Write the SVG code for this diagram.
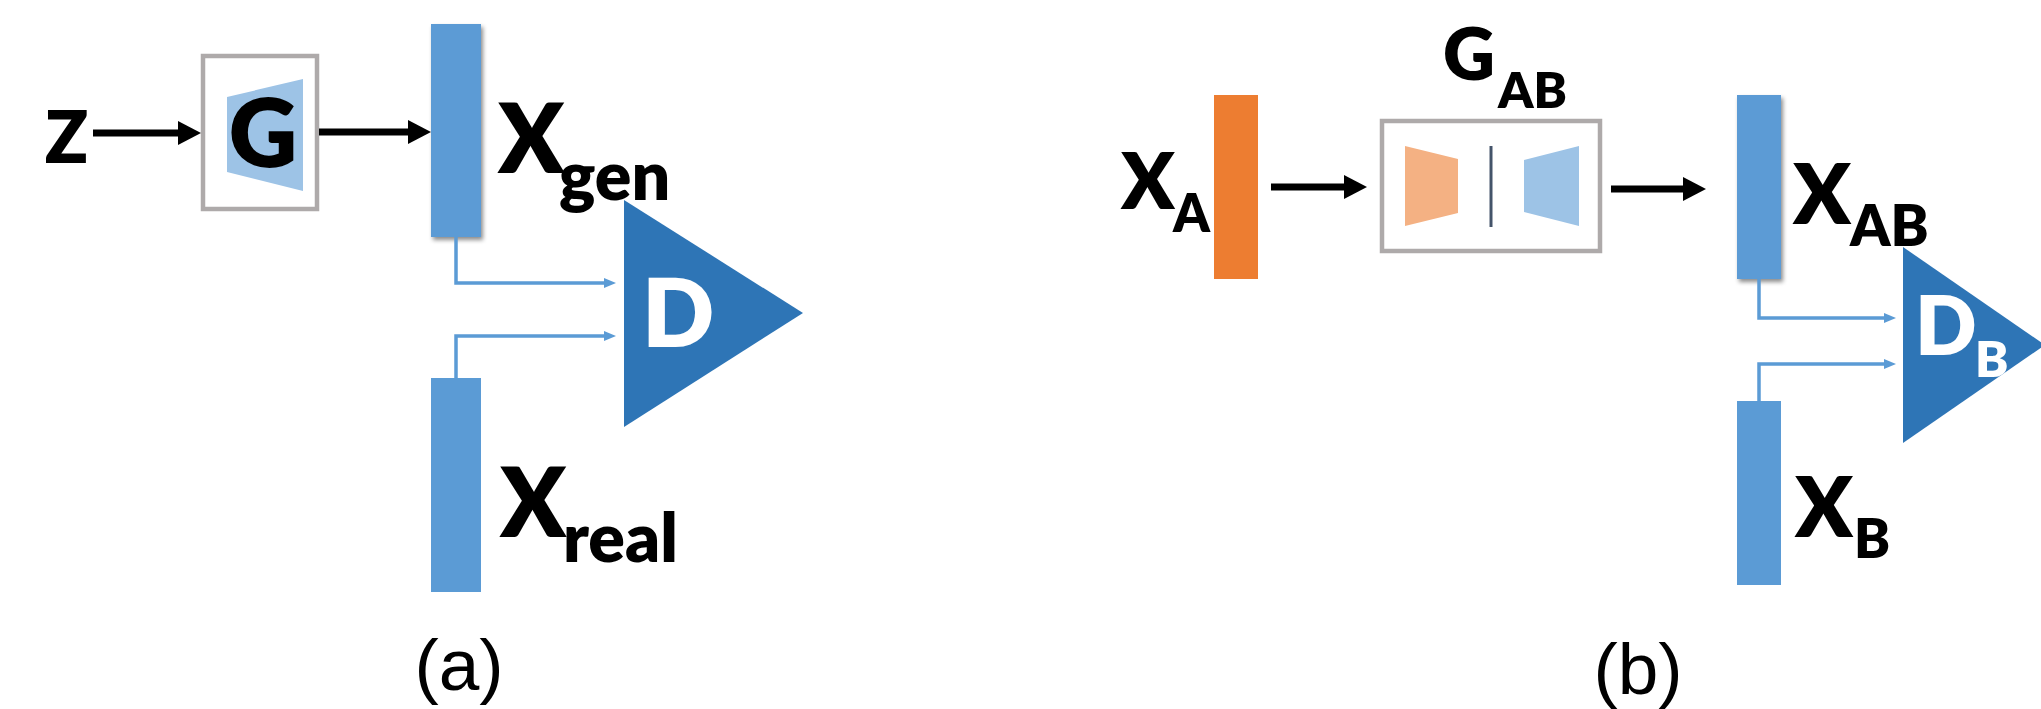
<svg xmlns="http://www.w3.org/2000/svg" width="2041" height="709" viewBox="0 0 2041 709">
  <style>
    .lbl { font-family: Lato, "Open Sans", sans-serif; font-weight: 800; fill: #000; }
    .inv { fill: #fff; }
    .cap { font-family: "Liberation Sans", Arial, sans-serif; font-weight: 400; fill: #000; }
    .bar { fill: #5b9bd5; }
    .disc { fill: #2e75b6; }
    .frame { fill: #fff; stroke: #aeaaaa; stroke-width: 4.5; }
    .flow { fill: none; stroke: #000; stroke-width: 7; }
    .feed { fill: none; stroke: #5b9bd5; stroke-width: 3.5; }
  </style>
  <defs>
    <marker id="head" markerUnits="userSpaceOnUse" viewBox="0 0 23 24" refX="1" refY="12" markerWidth="23" markerHeight="24" orient="auto">
      <path d="M0,0 L23,12 L0,24 z" fill="#000"/>
    </marker>
    <marker id="headBlue" markerUnits="userSpaceOnUse" viewBox="0 0 12 10" refX="1" refY="5" markerWidth="12" markerHeight="10" orient="auto">
      <path d="M0,0 L12,5 L0,10 z" fill="#5b9bd5"/>
    </marker>
    <filter id="shadow" x="-30%" y="-10%" width="160%" height="120%">
      <feDropShadow dx="2" dy="3" stdDeviation="2" flood-color="#000" flood-opacity="0.45"/>
    </filter>
  </defs>

  <!-- (a) plain GAN -->
  <g id="z">
    <text class="lbl" x="45" y="163" font-size="71">Z</text>
  </g>
  <g id="gen-g">
    <rect class="frame" x="203" y="56" width="114" height="153"/>
    <polygon points="227,97 303,79 303,191 227,172" fill="#9dc3e6"/>
    <text class="lbl" x="263" y="167" font-size="95" text-anchor="middle">G</text>
  </g>
  <g id="x-gen">
    <rect class="bar" x="431" y="24" width="50" height="213" filter="url(#shadow)"/>
    <text class="lbl" font-size="96"><tspan x="498" y="173">X</tspan><tspan x="559" y="200" font-size="68">gen</tspan></text>
  </g>
  <g id="x-real">
    <rect class="bar" x="431" y="378" width="50" height="214"/>
    <text class="lbl" font-size="96"><tspan x="500" y="537">X</tspan><tspan x="563" y="562" font-size="68">real</tspan></text>
  </g>
  <g id="disc-d">
    <polygon class="disc" points="624,200 803,313 624,427"/>
    <text class="lbl inv" x="642" y="347" font-size="95">D</text>
  </g>
  <text class="cap" x="459" y="690" font-size="73" text-anchor="middle">(a)</text>

  <!-- (b) domain transfer -->
  <g id="x-a">
    <rect x="1214" y="95" width="44" height="184" fill="#ed7d31"/>
    <text class="lbl" font-size="78"><tspan x="1121" y="209">X</tspan><tspan x="1173" y="232" font-size="52">A</tspan></text>
  </g>
  <g id="gen-ab">
    <rect class="frame" x="1382" y="121" width="218" height="130"/>
    <polygon points="1405,146 1458,159 1458,213 1405,226" fill="#f4b183"/>
    <line x1="1491" y1="146" x2="1491" y2="227" stroke="#44546a" stroke-width="3"/>
    <polygon points="1524,160 1579,146 1579,226 1524,212" fill="#9dc3e6"/>
    <text class="lbl" font-size="72"><tspan x="1443" y="80">G</tspan><tspan x="1498" y="108" font-size="50">AB</tspan></text>
  </g>
  <g id="x-ab">
    <rect class="bar" x="1737" y="95" width="44" height="184" filter="url(#shadow)"/>
    <text class="lbl" font-size="84"><tspan x="1793" y="224">X</tspan><tspan x="1850" y="246" font-size="57">AB</tspan></text>
  </g>
  <g id="x-b">
    <rect class="bar" x="1737" y="401" width="44" height="184"/>
    <text class="lbl" font-size="84"><tspan x="1795" y="537">X</tspan><tspan x="1854" y="558" font-size="54">B</tspan></text>
  </g>
  <g id="disc-db">
    <polygon class="disc" points="1903,247 2045,345 1903,443"/>
    <text class="lbl inv" font-size="81"><tspan x="1915" y="355">D</tspan><tspan x="1975" y="377" font-size="50">B</tspan></text>
  </g>
  <text class="cap" x="1638" y="694" font-size="73" text-anchor="middle">(b)</text>

  <!-- connectors -->
  <g id="connectors">
    <path class="flow" d="M93,133 H179" marker-end="url(#head)"/>
    <path class="flow" d="M319,132 H409" marker-end="url(#head)"/>
    <path class="feed" d="M456,237 V283 H605" marker-end="url(#headBlue)"/>
    <path class="feed" d="M456,378 V336 H605" marker-end="url(#headBlue)"/>
    <path class="flow" d="M1271,187 H1345" marker-end="url(#head)"/>
    <path class="flow" d="M1611,189 H1684" marker-end="url(#head)"/>
    <path class="feed" d="M1759,279 V318 H1885" marker-end="url(#headBlue)"/>
    <path class="feed" d="M1759,401 V364 H1885" marker-end="url(#headBlue)"/>
  </g>
</svg>
